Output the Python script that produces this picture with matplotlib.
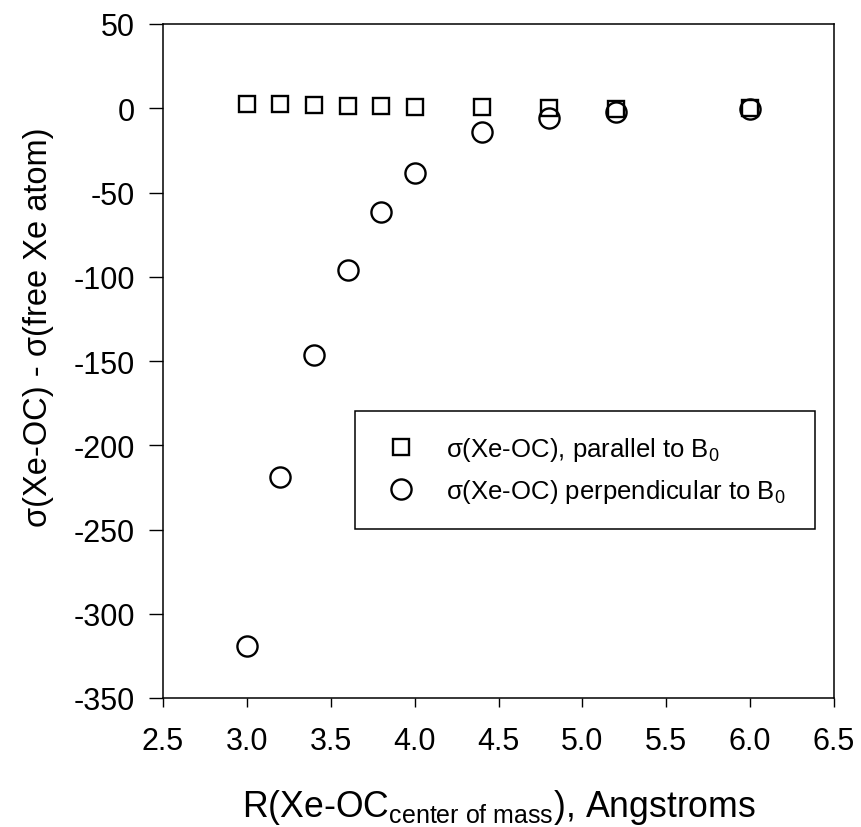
import matplotlib
matplotlib.use("Agg")
import matplotlib.pyplot as plt

plt.rcParams['font.family'] = ['Liberation Sans', 'DejaVu Sans']
plt.rcParams['mathtext.fontset'] = 'custom'
plt.rcParams['mathtext.rm'] = 'Liberation Sans'
plt.rcParams['mathtext.it'] = 'Liberation Sans'
plt.rcParams['mathtext.default'] = 'rm'

r_par = [3.0, 3.2, 3.4, 3.6, 3.8, 4.0, 4.4, 4.8, 5.2, 6.0]
sig_par = [2.8, 2.4, 2.0, 1.6, 1.2, 1.0, 0.5, 0.0, -0.5, 0.0]
r_perp = [3.0, 3.2, 3.4, 3.6, 3.8, 4.0, 4.4, 4.8, 5.2, 6.0]
sig_perp = [-319.4, -219.0, -146.6, -95.7, -61.3, -38.5, -14.0, -5.5, -2.5, -0.6]

xticks = [2.5, 3.0, 3.5, 4.0, 4.5, 5.0, 5.5, 6.0, 6.5]
yticks = [50, 0, -50, -100, -150, -200, -250, -300, -350]

fig = plt.figure(figsize=(8.61, 8.28), dpi=100)
ax = fig.add_axes([163/861, 129/828, 671/861, 674/828])

ax.plot(r_par, sig_par, linestyle='none', marker='s', markersize=11.5,
        markerfacecolor='none', markeredgecolor='black', markeredgewidth=1.7,
        label=r'σ(Xe-OC), parallel to B$_0$')
ax.plot(r_perp, sig_perp, linestyle='none', marker='o', markersize=14.5,
        markerfacecolor='none', markeredgecolor='black', markeredgewidth=1.7,
        label=r'σ(Xe-OC) perpendicular to B$_0$')

ax.set_xlim(2.5, 6.5)
ax.set_ylim(-350, 50)
ax.set_xticks(xticks)
ax.set_yticks(yticks)
ax.set_xticklabels([f"{v:.1f}" for v in xticks])
ax.set_yticklabels([f"{v:d}" for v in yticks])
ax.tick_params(axis='x', direction='out', length=6.5, width=1, labelsize=22, pad=14, color='black')
ax.tick_params(axis='y', direction='out', length=10, width=1, labelsize=22, pad=10, color='black')
for s in ax.spines.values():
    s.set_linewidth(1.1)
    s.set_color('black')

ax.set_xlabel(r'R(Xe-OC$_{\mathrm{center\ of\ mass}}$), Angstroms', fontsize=25.7, labelpad=22)
ax.set_ylabel('σ(Xe-OC) - σ(free Xe atom)', fontsize=23.5)
ax.yaxis.set_label_coords(-0.163, (699 - 327) / 674)

leg = ax.legend(loc='center', bbox_to_anchor=(192/671, 167/674, 460/671, 122/674),
                mode='expand', fontsize=18.5, frameon=True, fancybox=False,
                edgecolor='black', framealpha=1, borderpad=0.95, handletextpad=0.9,
                labelspacing=0.55, handlelength=1.7, borderaxespad=0)
leg.get_frame().set_linewidth(1.1)

fig.savefig('out.png', dpi=100)
